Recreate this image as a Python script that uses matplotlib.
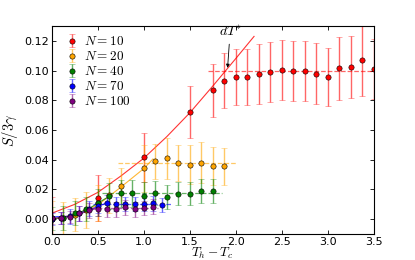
import numpy as np
import matplotlib
matplotlib.use('Agg')
import matplotlib.pyplot as plt

plt.rcParams['mathtext.fontset'] = 'cm'
plt.rcParams['font.size'] = 7.5
plt.rcParams['xtick.direction'] = 'in'
plt.rcParams['ytick.direction'] = 'in'
plt.rcParams['xtick.top'] = True
plt.rcParams['ytick.right'] = True

# N = 10
x10 = [0.0, 0.5, 1.0, 1.5, 1.75, 1.875, 2.0, 2.125, 2.25, 2.375, 2.5, 2.625, 2.75, 2.875, 3.0, 3.125, 3.25, 3.375, 3.5]
y10 = [0.0, 0.0145, 0.0416, 0.0721, 0.0866, 0.093, 0.0956, 0.0957, 0.0976, 0.099, 0.1003, 0.0997, 0.0999, 0.098, 0.0956, 0.1015, 0.1024, 0.1069, 0.101]
e10 = [0.015, 0.0155, 0.0167, 0.0175, 0.018, 0.0185, 0.019, 0.019, 0.0204, 0.02, 0.02, 0.0203, 0.0203, 0.0205, 0.0195, 0.021, 0.021, 0.024, 0.02]
# N = 20
x20 = [0.0, 0.125, 0.25, 0.375, 0.5, 0.625, 0.75, 1.0, 1.125, 1.25, 1.375, 1.5, 1.625, 1.75, 1.875]
y20 = [0.0, 0.0005, 0.003, 0.006, 0.011, 0.016, 0.0224, 0.0341, 0.0388, 0.041, 0.0378, 0.0366, 0.0381, 0.0355, 0.0355]
e20 = [0.012, 0.011, 0.011, 0.012, 0.012, 0.012, 0.012, 0.016, 0.012, 0.0137, 0.012, 0.013, 0.0135, 0.0128, 0.0125]
# N = 40
x40 = [0.0, 0.125, 0.25, 0.375, 0.5, 0.625, 0.75, 0.875, 1.0, 1.125, 1.25, 1.375, 1.5, 1.625, 1.75]
y40 = [0.0005, 0.001, 0.004, 0.0068, 0.011, 0.0156, 0.0174, 0.0174, 0.0158, 0.0174, 0.0149, 0.0172, 0.0172, 0.0188, 0.019]
e40 = [0.008, 0.008, 0.008, 0.008, 0.009, 0.009, 0.009, 0.009, 0.009, 0.008, 0.008, 0.008, 0.008, 0.008, 0.008]
# N = 70
x70 = [0.0, 0.1, 0.2, 0.3, 0.4, 0.5, 0.6, 0.7, 0.8, 0.9, 1.0, 1.1, 1.2]
y70 = [0.0, 0.0005, 0.002, 0.004, 0.007, 0.009, 0.011, 0.0102, 0.0102, 0.0102, 0.0104, 0.0106, 0.0095]
e70 = [0.004, 0.004, 0.005, 0.005, 0.005, 0.005, 0.005, 0.005, 0.005, 0.005, 0.005, 0.005, 0.005]
# N = 100
x100 = [0.0, 0.1, 0.2, 0.3, 0.4, 0.5, 0.6, 0.7, 0.8, 0.9, 1.0, 1.1]
y100 = [0.0005, 0.0005, 0.0016, 0.004, 0.006, 0.0068, 0.0066, 0.0066, 0.0079, 0.0066, 0.0075, 0.0085]
e100 = [0.004, 0.004, 0.004, 0.005, 0.005, 0.005, 0.005, 0.005, 0.005, 0.005, 0.005, 0.005]

# fitted curves
fit10_x = [0.0, 0.25, 0.5, 0.75, 1.0, 1.25, 1.5, 1.75, 2.0, 2.2]
fit10_y = [0.004, 0.010, 0.018, 0.029, 0.041, 0.0555, 0.0715, 0.0895, 0.108, 0.123]
fit20_x = [0.0, 0.25, 0.5, 0.75, 1.0, 1.1]
fit20_y = [0.0, 0.003, 0.0095, 0.0215, 0.034, 0.0405]
fit40_x = [0.0, 0.2, 0.4, 0.63]
fit40_y = [0.0, 0.002, 0.007, 0.0156]
fit70_x = [0.0, 0.2, 0.4, 0.6]
fit70_y = [0.0015, 0.002, 0.006, 0.011]
fit100_x = [0.0, 0.2, 0.35, 0.5]
fit100_y = [0.0005, 0.0018, 0.0045, 0.0075]

# plateau levels and extent
sat_y = [0.1, 0.038, 0.0174, 0.0102, 0.0075]
sat_x0 = [1.7, 0.72, 0.55, 0.45, 0.35]
sat_x1 = [3.55, 2.0, 1.85, 1.3, 1.15]

colors = ['red', 'orange', 'green', 'blue', 'purple']
labels = ['$N=10$', '$N=20$', '$N=40$', '$N=70$', '$N=100$']
xs = [x10, x20, x40, x70, x100]
ys = [y10, y20, y40, y70, y100]
es = [e10, e20, e40, e70, e100]
fxs = [fit10_x, fit20_x, fit40_x, fit70_x, fit100_x]
fys = [fit10_y, fit20_y, fit40_y, fit70_y, fit100_y]

fig, ax = plt.subplots(figsize=(4.15, 2.6), dpi=100)
fig.subplots_adjust(left=0.125, right=0.9, bottom=0.1, top=0.9)

for i in range(5):
    ax.plot(fxs[i], fys[i], '-', color=colors[i], lw=0.8, alpha=0.8)
    ax.hlines(sat_y[i], sat_x0[i], sat_x1[i], colors=colors[i], linestyles='dashed', lw=0.9, alpha=0.6)
    ecol = matplotlib.colors.to_rgba(colors[i], 0.6)
    ax.errorbar(xs[i], ys[i], yerr=es[i], fmt='o', color=colors[i], ecolor=ecol,
                markersize=3.8, markeredgecolor='k', markeredgewidth=0.4,
                elinewidth=1.0, capsize=2.5, capthick=1.0, label=labels[i])

ax.annotate('$dT^{*}$', xy=(1.91, 0.1), xytext=(1.94, 0.1215), ha='center', va='bottom',
            fontsize=10, arrowprops=dict(arrowstyle='-|>', color='k', lw=0.6, mutation_scale=5))

ax.set_xlim(0, 3.5)
ax.set_ylim(-0.01, 0.13)
ax.set_yticks([0.0, 0.02, 0.04, 0.06, 0.08, 0.10, 0.12])
ax.set_xlabel('$T_h - T_c$', fontsize=9.5, labelpad=-0.5)
ax.set_ylabel(r'$\dot{S}/3\gamma$', fontsize=10.5)
ax.yaxis.set_label_coords(-0.095, 0.5)
ax.tick_params(length=3, width=0.6, labelsize=8, pad=2)
for s in ax.spines.values():
    s.set_linewidth(0.8)
ax.legend(loc='upper left', frameon=False, numpoints=1, fontsize=9.5, labelspacing=0.15,
          handletextpad=0.1, borderaxespad=0.3, handlelength=1.6)

fig.savefig('out.png', dpi=100)
